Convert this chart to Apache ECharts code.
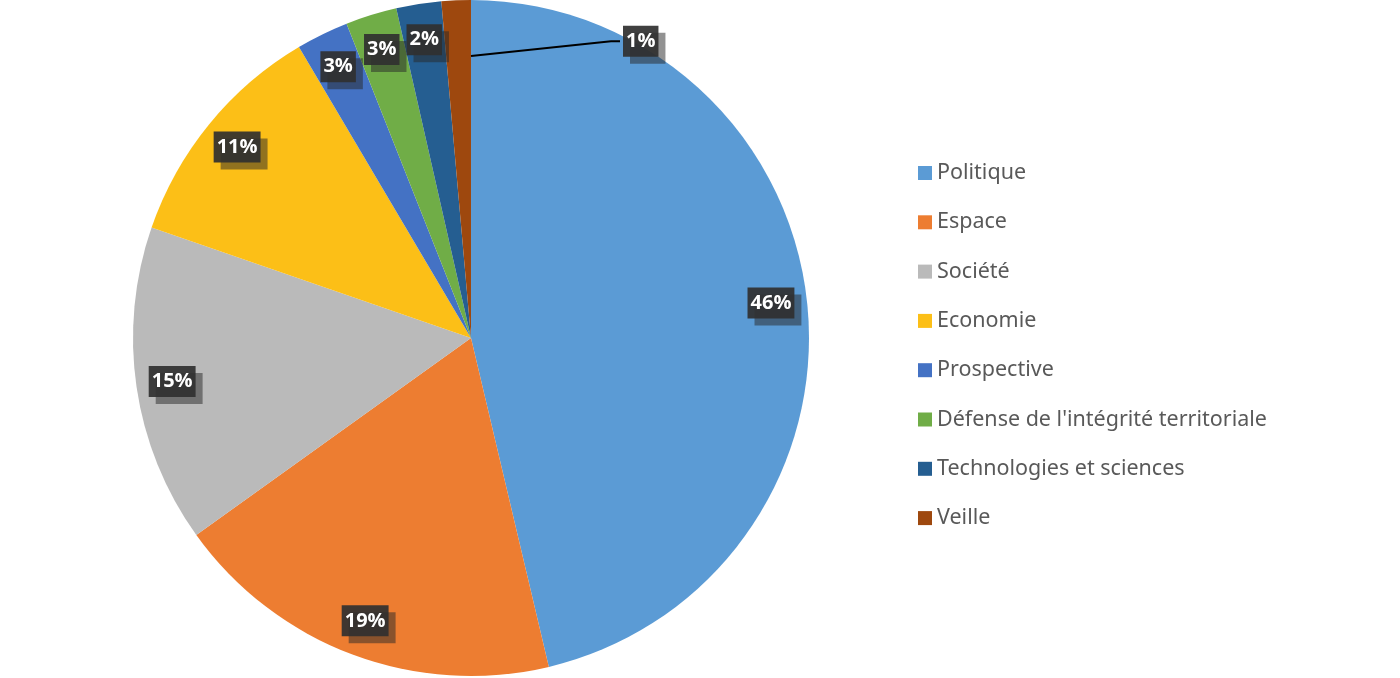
<!DOCTYPE html>
<html>
<head>
<meta charset="utf-8">
<script src="https://cdn.jsdelivr.net/npm/echarts@6/dist/echarts.min.js"></script>
<style>
html,body{margin:0;padding:0;background:#fff;}
#chart{width:1400px;height:678px;}
</style>
</head>
<body>
<div id="chart"></div>
<script>
// Data (shares in %)
const categories = ["Politique", "Espace", "Société", "Economie", "Prospective", "Défense de l'intégrité territoriale", "Technologies et sciences", "Veille"];
const values = [46.3, 18.8, 15.2, 11.2, 2.5, 2.45, 2.15, 1.4];
const colors = ["#5B9BD5", "#ED7D31", "#BABABA", "#FCBF17", "#4472C4", "#70AD47", "#255E91", "#9E480E"];

const chart = echarts.init(document.getElementById('chart'), null, {renderer: 'canvas'});
const last = categories.length - 1;

const mainData = categories.map((c, i) => ({name: c, value: values[i], itemStyle: {color: colors[i]}}));

const labelStyle = {
  show: true,
  position: 'inside',
  formatter: '{d}%',
  color: '#ffffff',
  fontFamily: 'Open Sans',
  fontWeight: 'bold',
  fontSize: 20,
  backgroundColor: 'rgba(48,48,48,0.92)',
  padding: [6, 3, 5, 3],
  shadowColor: 'rgba(40,40,40,0.55)',
  shadowOffsetX: 7,
  shadowOffsetY: 7,
  shadowBlur: 0
};

// inside-end labels (all except the smallest slice)
const labelData = categories.map((c, i) => {
  const d = {name: c, value: values[i], itemStyle: {color: 'rgba(0,0,0,0)'}};
  if (i === last) d.label = {show: false};
  return d;
});

// label with leader line for the smallest slice
const calloutData = categories.map((c, i) => {
  const d = {name: c, value: values[i], itemStyle: {color: 'rgba(0,0,0,0)'}};
  if (i !== last) {
    d.label = {show: false};
    d.labelLine = {show: false};
  }
  return d;
});

chart.setOption({
  animation: false,
  backgroundColor: '#ffffff',
  legend: {
    orient: 'vertical',
    left: 913,
    top: 157,
    itemWidth: 14,
    itemHeight: 14,
    itemGap: 27.3,
    icon: 'rect',
    data: categories,
    textStyle: {fontFamily: 'Noto Sans', fontSize: 21.5, color: '#595959'}
  },
  series: [
    {
      type: 'pie',
      name: 'main',
      z: 2,
      center: [471, 338],
      radius: [0, 338],
      startAngle: 90,
      clockwise: true,
      label: {show: false},
      labelLine: {show: false},
      emphasis: {disabled: true},
      itemStyle: {borderWidth: 0},
      data: mainData
    },
    {
      type: 'pie',
      name: 'labels',
      z: 4,
      center: [471, 338],
      radius: [260, 338],
      startAngle: 90,
      clockwise: true,
      silent: true,
      percentPrecision: 0,
      emphasis: {disabled: true},
      label: labelStyle,
      labelLine: {show: false},
      data: labelData
    },
    {
      type: 'pie',
      name: 'callout',
      z: 5,
      center: [471, 338],
      radius: [0, 282],
      startAngle: 90,
      clockwise: true,
      silent: true,
      percentPrecision: 0,
      avoidLabelOverlap: false,
      label: Object.assign({}, labelStyle, {position: 'outside'}),
      labelLine: {show: true, showAbove: true, length: 4, length2: 10, smooth: false, lineStyle: {color: '#000000', width: 2, opacity: 1}},
      labelLayout: function (params) {
        if (params.dataIndex === last) {
          const lx = 0.445 * chart.getWidth();
          const ly = 0.061 * chart.getHeight();
          const r = params.rect;
          return {
            x: lx, y: ly, align: 'left', verticalAlign: 'middle',
            labelLinePoints: [[r.x + r.width, r.y], [lx - 12, ly], [lx - 3, ly]]
          };
        }
      },
      data: calloutData
    }
  ]
});
</script>
</body>
</html>
